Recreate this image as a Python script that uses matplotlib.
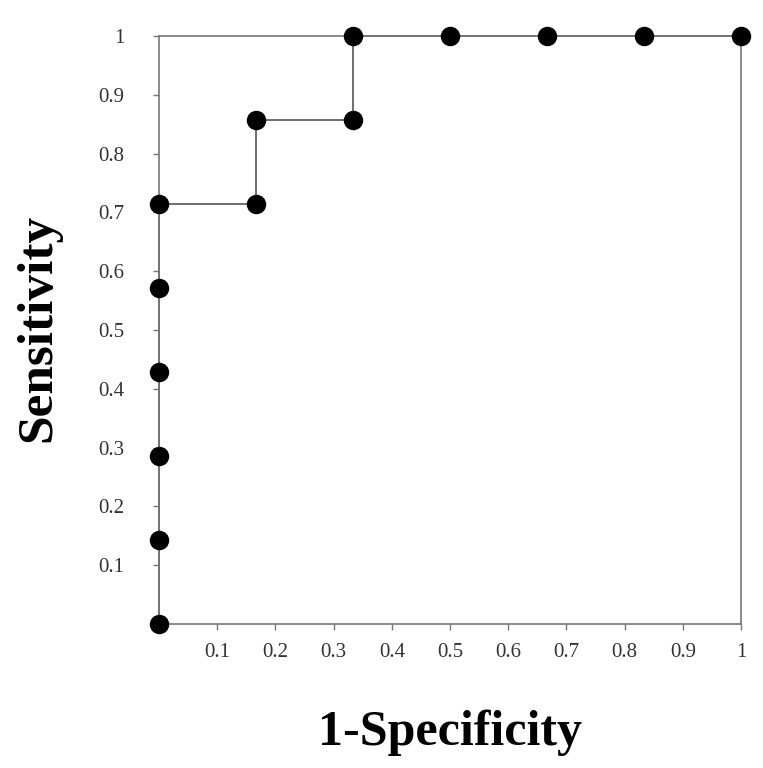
import numpy as np
import matplotlib.pyplot as plt

# points de la courbe ROC
fpr = [0, 0, 0, 0, 0, 0, 1/6, 1/6, 2/6, 2/6, 3/6, 4/6, 5/6, 1]
tpr = [0, 1/7, 2/7, 3/7, 4/7, 5/7, 5/7, 6/7, 6/7, 1, 1, 1, 1, 1]

ticks = [0.1, 0.2, 0.3, 0.4, 0.5, 0.6, 0.7, 0.8, 0.9, 1]
tick_labels = ['0.1', '0.2', '0.3', '0.4', '0.5', '0.6', '0.7', '0.8', '0.9', '1']

fig = plt.figure(figsize=(7.63, 7.68), dpi=100)
ax = fig.add_axes([0.2084, 0.1875, 0.7628, 0.7656])

ax.plot(fpr, tpr, '-', color='#555555', lw=1.2, zorder=2, clip_on=False)
ax.plot(fpr, tpr, 'o', color='black', markersize=13, zorder=3, clip_on=False)

ax.set_xlim(0, 1)
ax.set_ylim(0, 1)
ax.set_xticks(ticks)
ax.set_xticklabels(tick_labels)
ax.set_yticks(ticks)
ax.set_yticklabels(tick_labels)

for s in ax.spines.values():
    s.set_color('#777777')
    s.set_linewidth(1.2)

ax.tick_params(direction='out', length=4, width=1, color='#777777',
               labelsize=15, labelcolor='#333333')
ax.tick_params(axis='x', pad=10)
ax.tick_params(axis='y', pad=21)
for lab in ax.get_xticklabels() + ax.get_yticklabels():
    lab.set_family('Liberation Serif')

ax.set_xlabel('1-Specificity', fontsize=36, fontweight='bold',
              family='Liberation Serif', va='center')
ax.set_ylabel('Sensitivity', fontsize=37, fontweight='bold',
              family='Liberation Serif', va='center')
ax.xaxis.set_label_coords(0.5, -0.185)
ax.yaxis.set_label_coords(-0.208, 0.503)

fig.savefig('out.png', dpi=100)
